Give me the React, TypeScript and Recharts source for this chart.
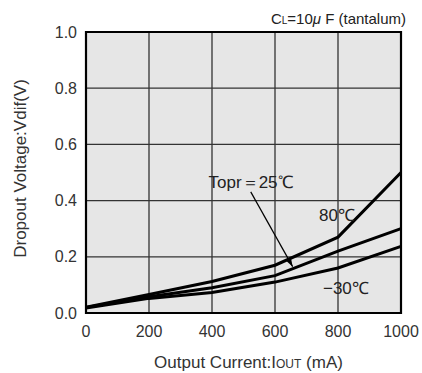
import React from "react";
import {
  LineChart,
  Line,
  XAxis,
  YAxis,
  CartesianGrid,
  ReferenceArea,
  ReferenceDot,
  ReferenceLine,
} from "recharts";

const currents = [0, 200, 400, 600, 800, 1000];
const vdif80 = [0.021, 0.066, 0.112, 0.17, 0.27, 0.5];
const vdif25 = [0.02, 0.058, 0.09, 0.133, 0.22, 0.3];
const vdifMinus30 = [0.018, 0.052, 0.073, 0.11, 0.16, 0.237];

const xTicks = [0, 200, 400, 600, 800, 1000];
const yTicks = [0, 0.2, 0.4, 0.6, 0.8, 1.0];

// annotation anchors, in data units
const labels = [
  { x: 524, y: 0.467, text: "Topr\uFF1D25\u2103" },
  { x: 797, y: 0.348, text: "80\u2103" },
  { x: 825, y: 0.089, text: "\u221230\u2103" },
];
const arrowFrom = { x: 523, y: 0.431 };
const arrowTo = { x: 656, y: 0.165 };

const data = currents.map((c, i) => ({
  iout: c,
  t80: vdif80[i],
  t25: vdif25[i],
  tm30: vdifMinus30[i],
}));

const FONT = "'Liberation Sans', Arial, sans-serif";
const TEXT = "#333";

const ArrowHead = (props: any) => {
  const { cx, cy } = props;
  if (cx == null || cy == null) return null;
  const ang = Math.atan2(75, 42);
  const len = 9;
  const w = 3;
  const bx = cx - len * Math.cos(ang);
  const by = cy - len * Math.sin(ang);
  const px = -Math.sin(ang) * w;
  const py = Math.cos(ang) * w;
  return (
    <polygon
      points={`${cx},${cy} ${bx + px},${by + py} ${bx - px},${by - py}`}
      fill="#000"
    />
  );
};

const XLabel = (props: any) => {
  const vb = props.viewBox || {};
  const cx = vb.x + vb.width / 2 + 5;
  return (
    <text
      x={cx}
      y={vb.y + 55}
      textAnchor="middle"
      fontFamily={FONT}
      fontSize={17}
      fill={TEXT}
    >
      Output Current:I<tspan fontSize={12}>OUT</tspan> (mA)
    </text>
  );
};

const YLabel = (props: any) => {
  const vb = props.viewBox || {};
  const cy = vb.y + vb.height / 2 - 4;
  const x = 20;
  return (
    <text
      x={x}
      y={cy}
      transform={`rotate(-90 ${x} ${cy})`}
      textAnchor="middle"
      dominantBaseline="central"
      fontFamily={FONT}
      fontSize={17}
      fill={TEXT}
    >
      Dropout Voltage:Vdif(V)
    </text>
  );
};

export default function App() {
  return (
    <div style={{ position: "absolute", left: 0, top: 0, background: "#fff" }}>
      <div
        style={{
          position: "absolute",
          right: 16,
          top: 10,
          fontFamily: FONT,
          fontSize: 15,
          lineHeight: "18px",
          color: "#222",
          whiteSpace: "nowrap",
          zIndex: 2,
        }}
      >
        C<span style={{ fontSize: 10 }}>L</span>=10<i>μ</i> F (tantalum)
      </div>
      <LineChart
        width={422}
        height={373}
        data={data}
        margin={{ top: 32, right: 21, left: 0, bottom: 0 }}
      >
        <CartesianGrid
          stroke="#333"
          strokeWidth={1.3}
          fill="#e6e6e6"
          fillOpacity={1}
        />
        <XAxis
          dataKey="iout"
          type="number"
          domain={[0, 1000]}
          ticks={xTicks}
          height={60}
          tickSize={0}
          tickMargin={13}
          axisLine={false}
          tick={{ fontFamily: FONT, fontSize: 16, fill: TEXT }}
          label={{ content: XLabel }}
        />
        <YAxis
          type="number"
          domain={[0, 1]}
          ticks={yTicks}
          width={86}
          tickSize={0}
          tickMargin={9}
          axisLine={false}
          tickFormatter={(v: number) => v.toFixed(1)}
          tick={{ fontFamily: FONT, fontSize: 16, fill: TEXT }}
          label={{ content: YLabel }}
        />
        <ReferenceArea
          x1={0}
          x2={1000}
          y1={0}
          y2={1}
          fill="none"
          stroke="#000"
          strokeWidth={2.2}
        />
        <Line
          dataKey="tm30"
          stroke="#000"
          strokeWidth={3}
          dot={false}
          isAnimationActive={false}
        />
        <Line
          dataKey="t25"
          stroke="#000"
          strokeWidth={3}
          dot={false}
          isAnimationActive={false}
        />
        <Line
          dataKey="t80"
          stroke="#000"
          strokeWidth={3}
          dot={false}
          isAnimationActive={false}
        />
        <ReferenceLine
          segment={[arrowFrom, arrowTo]}
          stroke="#000"
          strokeWidth={1.2}
        />
        <ReferenceDot
          x={arrowTo.x}
          y={arrowTo.y}
          r={4}
          shape={ArrowHead}
        />
        {labels.map((l) => (
          <ReferenceDot
            key={l.text}
            x={l.x}
            y={l.y}
            r={0}
            fill="none"
            stroke="none"
            label={{
              value: l.text,
              position: "center",
              fontFamily: FONT,
              fontSize: 17,
              fill: "#222",
            }}
          />
        ))}
      </LineChart>
    </div>
  );
}
